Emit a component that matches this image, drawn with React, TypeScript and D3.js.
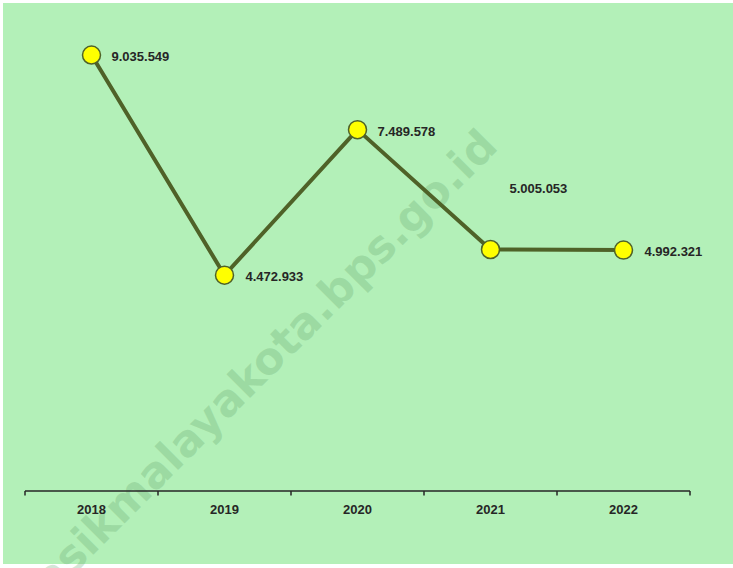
import React from "react";
import * as d3 from "d3";

const years = ["2018", "2019", "2020", "2021", "2022"];
const values = [9035549, 4472933, 7489578, 5005053, 4992321];
const labels = ["9.035.549", "4.472.933", "7.489.578", "5.005.053", "4.992.321"];
const labelOffsets: [number, number][] = [
  [20, 6],
  [21, 6],
  [20, 6],
  [19, -57],
  [21, 6],
];
const watermark = "tasikmalayakota.bps.go.id";

export default function App() {
  const W = 733;
  const H = 568;
  const x = d3.scaleBand<string>().domain(years).range([25, 690]);
  const y = d3.scaleLinear().domain([0, 10000000]).range([491, 8.5]);
  const cx = (d: string) => (x(d) as number) + x.bandwidth() / 2;
  const line = d3
    .line<number>()
    .x((_, i) => cx(years[i]))
    .y((v) => y(v));
  const ticks = [...years.map((d) => x(d) as number), 690];
  const font = "'Liberation Sans', Arial, sans-serif";
  return (
    <svg
      width={W}
      height={H}
      style={{ position: "absolute", left: 0, top: 0, background: "#ffffff" }}
    >
      <rect x={3} y={3} width={730} height={561} fill="#b3f0b8" />
      <text
        x={268}
        y={380}
        transform="rotate(-45 268 380)"
        textAnchor="middle"
        fontFamily="'DejaVu Sans', Verdana, sans-serif"
        fontWeight="bold"
        fontSize={44}
        fill="#5a9a62"
        fillOpacity={0.25}
      >
        {watermark}
      </text>
      <line x1={25} x2={690} y1={y(0)} y2={y(0)} stroke="#262626" strokeWidth={1.5} />
      {ticks.map((t, i) => (
        <line key={i} x1={t} x2={t} y1={y(0)} y2={y(0) + 4.5} stroke="#262626" strokeWidth={1.5} />
      ))}
      {years.map((d) => (
        <text
          key={d}
          x={cx(d)}
          y={513.5}
          textAnchor="middle"
          fontFamily={font}
          fontWeight="bold"
          fontSize={13}
          fill="#262626"
        >
          {d}
        </text>
      ))}
      <path d={line(values) || ""} fill="none" stroke="#4f6228" strokeWidth={4} strokeLinejoin="round" />
      {values.map((v, i) => (
        <circle key={i} cx={cx(years[i])} cy={y(v)} r={9} fill="#ffff00" stroke="#4f6228" strokeWidth={1.5} />
      ))}
      {values.map((v, i) => (
        <text
          key={i}
          x={cx(years[i]) + labelOffsets[i][0]}
          y={y(v) + labelOffsets[i][1]}
          fontFamily={font}
          fontWeight="bold"
          fontSize={13}
          fill="#262626"
        >
          {labels[i]}
        </text>
      ))}
    </svg>
  );
}
